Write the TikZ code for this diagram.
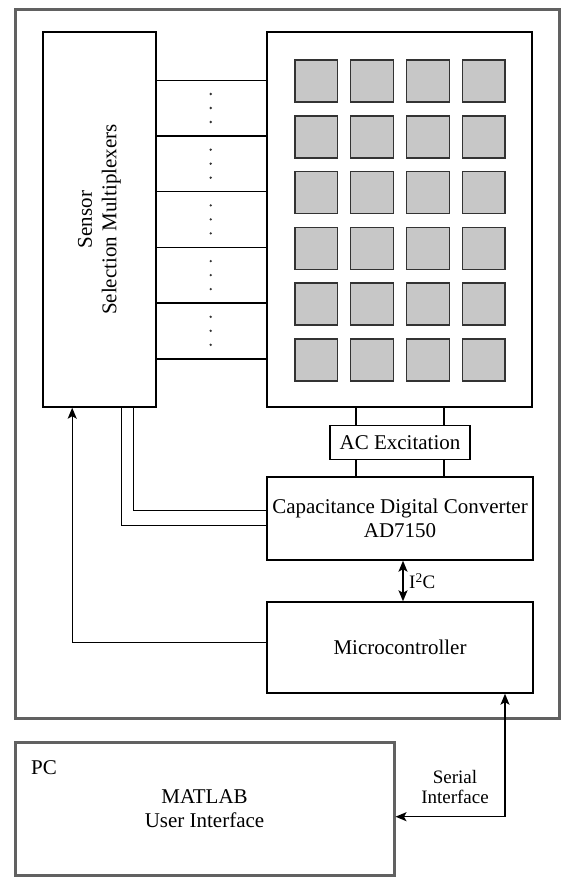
\documentclass[tikz,border=0pt]{standalone}
\usepackage{fontspec}
\setmainfont{Liberation Serif}
\usetikzlibrary{arrows.meta,calc}
\begin{document}
\begin{tikzpicture}[x=1pt,y=-1pt,
  box/.style={draw=black, line width=1.4pt, rectangle, inner sep=0pt, font=\fontsize{21}{24.5}\selectfont, align=center},
  grayframe/.style={draw=black!62, line width=3pt, rectangle, inner sep=0pt},
  wire/.style={draw=black, line width=1.4pt},
  cell/.style={draw=black!80, line width=1.5pt, fill=black!22, minimum width=42.7pt, minimum height=42pt, inner sep=0pt},
  arr/.style={-{Stealth[length=11pt,width=9pt,inset=2.5pt]}},
  arrboth/.style={{Stealth[length=11pt,width=9pt,inset=2.5pt]}-{Stealth[length=11pt,width=9pt,inset=2.5pt]}},
  dotm/.style={circle, fill=black!80, inner sep=0pt, minimum size=2.6pt},
  lab/.style={font=\fontsize{21}{24.5}\selectfont, align=center, inner sep=0pt}
]
\useasboundingbox (0,0) rectangle (572,877);

% frames
\node[grayframe, minimum width=544pt, minimum height=708pt] (outer) at (287,364) {};
\node[grayframe, minimum width=379pt, minimum height=133pt, font=\fontsize{21}{24.5}\selectfont, align=center] (pc) at (204.5,808.5) {MATLAB\\User Interface};
\node[lab, anchor=west] (pclabel) at (31,768) {PC};

% main blocks
\node[box, minimum width=113pt, minimum height=375pt] (mux) at (99.5,219.5) {};
\node[lab, rotate=90] (muxlabel) at (mux.center) {Sensor\\Selection Multiplexers};
\node[box, minimum width=265pt, minimum height=375pt] (array) at (399.5,219.5) {};
\node[box, minimum width=140pt, minimum height=34pt] (ac) at (400,442.5) {AC Excitation};
\node[box, minimum width=266pt, minimum height=83pt] (cdc) at (400,518.5) {Capacitance Digital Converter\\AD7150};
\node[box, minimum width=266pt, minimum height=91pt] (micro) at (400,647.5) {Microcontroller};

% sensor cells
\foreach \i in {0,...,3} {
  \foreach \j in {0,...,5} {
    \node[cell] (c\i\j) at ({316.1+55.9*\i},{81+55.8*\j}) {};
  }
}

% mux to array lines with dots
\foreach \k in {0,...,5} {
  \coordinate (r\k) at (0,{80.3+55.7*\k});
  \draw[wire] (mux.east |- r\k) -- (array.west |- r\k);
}
\foreach \k in {0,...,4} {
  \node[dotm] (da\k) at (210.7,{94+55.7*\k}) {};
  \node[dotm] (db\k) at (210.7,{108+55.7*\k}) {};
  \node[dotm] (dc\k) at (210.7,{122+55.7*\k}) {};
}

% helper coordinates
\coordinate (cx1) at (356,0);
\coordinate (cx2) at (444,0);
\coordinate (m0) at (72.2,0);
\coordinate (m1) at (121.7,0);
\coordinate (m2) at (133.3,0);
\coordinate (ya1) at (0,525.7);
\coordinate (ya2) at (0,510.7);
\coordinate (yb) at (0,642.3);
\coordinate (i2) at (403,0);
\coordinate (s1) at (505,0);
\coordinate (ys) at (0,816.7);

% array - AC - CDC
\draw[wire] (array.south -| cx1) -- (ac.north -| cx1);
\draw[wire] (array.south -| cx2) -- (ac.north -| cx2);
\draw[wire] (ac.south -| cx1) -- (cdc.north -| cx1);
\draw[wire] (ac.south -| cx2) -- (cdc.north -| cx2);

% mux - CDC
\draw[wire] (mux.south -| m1) |- (cdc.west |- ya1);
\draw[wire] (mux.south -| m2) |- (cdc.west |- ya2);

% I2C
\draw[wire, arrboth] (cdc.south -| i2) -- (micro.north -| i2);
\node[anchor=west, inner sep=0pt, font=\fontsize{19}{20}\selectfont] (i2clabel) at (409,581) {I\textsuperscript{2}C};

% micro - mux
\draw[wire, arr] (micro.west |- yb) -| (mux.south -| m0);

% serial
\draw[wire, arrboth] (micro.south -| s1) |- (pc.east |- ys);
\node[font=\fontsize{19}{19.4}\selectfont, align=center, inner sep=0pt] (serial) at (455,787) {Serial\\Interface};

\end{tikzpicture}
\end{document}
